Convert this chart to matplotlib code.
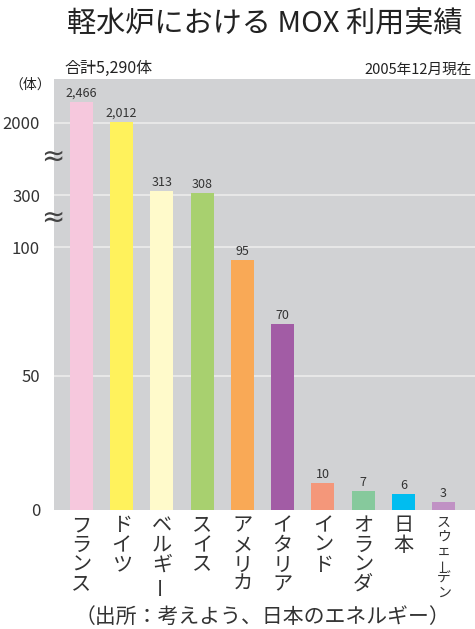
import numpy as np
import matplotlib
matplotlib.use("Agg")
import matplotlib.pyplot as plt
import matplotlib.transforms as mtransforms

plt.rcParams['font.family'] = ['Noto Sans CJK JP', 'DejaVu Sans']

# data
countries = ['フランス', 'ドイツ', 'ベルギー', 'スイス', 'アメリカ',
             'イタリア', 'インド', 'オランダ', '日本', 'スウェーデン']
counts = [2466, 2012, 313, 308, 95, 70, 10, 7, 6, 3]
colors = ['#f6c8dd', '#fff25c', '#fffacb', '#a8d06f', '#f9a956',
          '#a25ca5', '#f4977a', '#86c99c', '#00bdf0', '#c091c4']
yticks = [0, 50, 100, 300, 2000]

# broken axis: piecewise linear scale
knots_v = [0, 50, 100, 280, 340, 1900, 3000]
knots_p = [0, 134, 263, 309, 327, 383, 432]


def fwd(v):
    return np.interp(v, knots_v, knots_p)


def inv(p):
    return np.interp(p, knots_p, knots_v)


fig = plt.figure(figsize=(4.75, 6.29), dpi=100)
ax = fig.add_axes([54 / 475, 1 - 510 / 629, 1 - 54 / 475, 431 / 629])
ax.set_yscale('function', functions=(fwd, inv))
ax.set_facecolor('#d1d2d4')

x = np.arange(len(countries))
ax.bar(x, counts, width=0.57, color=colors, zorder=3)
ax.set_xlim(-0.68, 9.78)
ax.set_ylim(0, inv(431))

for t in yticks[1:]:
    ax.axhline(t, color='#ececec', lw=1.2, zorder=1)

ax.set_yticks(yticks)
ax.set_yticklabels([str(t) for t in yticks], fontsize=12, color='#333333')
ax.tick_params(axis='y', length=0, pad=10)
ax.set_xticks([])
for s in ax.spines.values():
    s.set_visible(False)

for xi, c in zip(x, counts):
    ax.text(xi, c, f'{c:,}', ha='center', va='bottom', fontsize=9,
            color='#333333', zorder=4,
            transform=ax.transData + mtransforms.ScaledTranslation(0, 2 / 100, fig.dpi_scale_trans))

# break marks
for py in [157, 218]:
    ax.text(-0.002, (510 - py) / 431, '≈', transform=ax.transAxes, ha='center', va='center',
            fontsize=20, color='#444444', family='DejaVu Sans', clip_on=False, zorder=5)

# vertical category labels
trans = mtransforms.blended_transform_factory(ax.transData, fig.transFigure)
for xi, name in zip(x, countries):
    if len(name) > 4:
        size, step, y0 = 10, 14, 523
    else:
        size, step, y0 = 14.5, 19.5, 526
    for i, ch in enumerate(name):
        yy = 1 - (y0 + i * step) / 629
        rot = 90 if ch == 'ー' else 0
        ax.text(xi, yy, ch, transform=trans, ha='center', va='center',
                fontsize=size, color='#333333', rotation=rot, clip_on=False)

fig.text(265 / 475, 1 - 24 / 629, '軽水炉における MOX 利用実績', ha='center', va='center',
         fontsize=21, color='#222222')
fig.text(64 / 475, 1 - 68 / 629, '合計5,290体', ha='left', va='center',
         fontsize=11.5, color='#222222')
fig.text(472 / 475, 1 - 70 / 629, '2005年12月現在', ha='right', va='center',
         fontsize=10.5, color='#222222')
fig.text(30 / 475, 1 - 85 / 629, '（体）', ha='center', va='center',
         fontsize=10, color='#222222')
fig.text(262 / 475, 1 - 617 / 629, '（出所：考えよう、日本のエネルギー）', ha='center',
         va='center', fontsize=15, color='#333333')

fig.savefig('out.png', dpi=100)
